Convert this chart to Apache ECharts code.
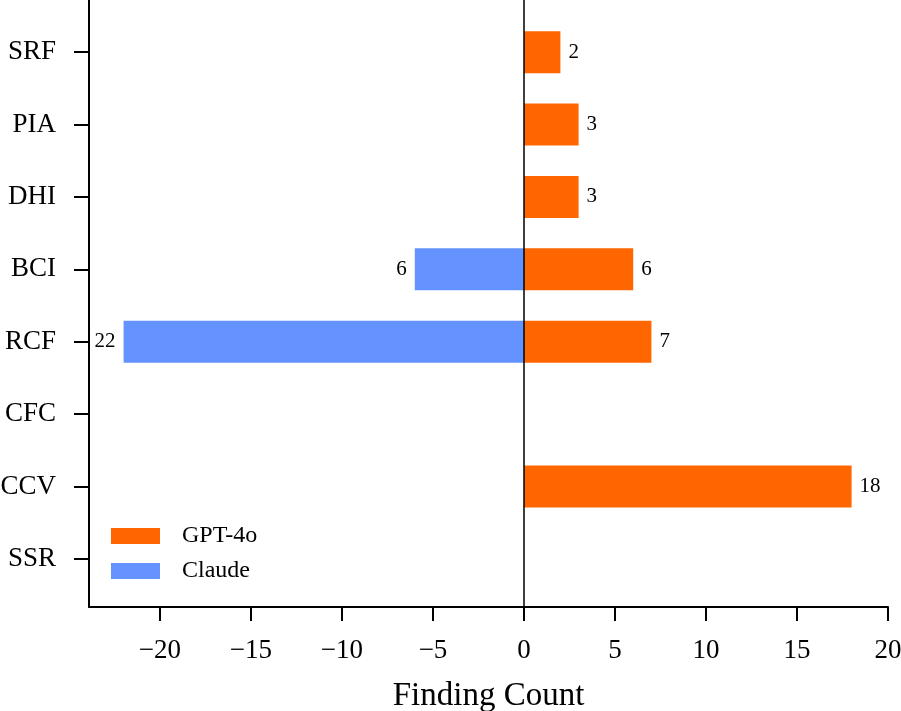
<!DOCTYPE html>
<html lang="en">
<head>
    <meta charset="UTF-8">
    <title>Finding Count</title>
    <script src="https://cdn.jsdelivr.net/npm/echarts@6/dist/echarts.min.js"></script>
</head>
<body style="margin:0;background:#fff">
<div id="main" style="width: 901px; height: 711px;"></div>
<script>
    // categories bottom -> top
    var categories = ['SSR', 'CCV', 'CFC', 'RCF', 'BCI', 'DHI', 'PIA', 'SRF']
    var gptValues = [0, 18, 0, 7, 6, 3, 3, 2]
    var claudeValues = [0, 0, 0, -22, -6, 0, 0, 0]
    var xTicks = [-20, -15, -10, -5, 0, 5, 10, 15, 20]

    var font = 'Liberation Serif'
    var myChart = echarts.init(document.getElementById('main'))

    function barLabel(pos) {
        return {
            show: true,
            position: pos,
            distance: 8,
            color: '#000',
            fontFamily: font,
            fontSize: 21,
            formatter: function (p) {
                return p.value === 0 ? '' : String(Math.abs(p.value))
            }
        }
    }

    var option = {
        backgroundColor: '#fff',
        animation: false,
        textStyle: { fontFamily: font },
        legend: {
            orient: 'vertical',
            left: 106,
            top: 519,
            itemWidth: 49,
            itemHeight: 16,
            itemGap: 11,
            icon: 'rect',
            textStyle: { fontFamily: font, fontSize: 24, color: '#000', padding: [0, 0, 0, 17] },
            data: ['GPT-4o', 'Claude']
        },
        grid: [
            // frame: full-height axes
            { left: 89, top: 0, width: 799, height: 607, containLabel: false, outerBoundsMode: 'none' },
            // bars
            { left: 89, top: 16, width: 799, height: 579, containLabel: false, outerBoundsMode: 'none' }
        ],
        xAxis: [
            {
                gridIndex: 0,
                type: 'value',
                min: -23.9,
                max: 20,
                name: 'Finding Count',
                nameLocation: 'middle',
                nameGap: 73,
                nameTextStyle: { fontFamily: font, fontSize: 33, color: '#000' },
                axisLine: { show: true, onZero: false, lineStyle: { color: '#000', width: 2 } },
                axisTick: { show: true, length: 14, customValues: xTicks, lineStyle: { color: '#000', width: 2 } },
                axisLabel: {
                    customValues: xTicks,
                    margin: 30,
                    color: '#000',
                    fontFamily: font,
                    fontSize: 27,
                    formatter: function (v) { return String(v).replace('-', '\u2212') }
                },
                splitLine: { show: false }
            },
            {
                gridIndex: 1,
                type: 'value',
                min: -23.9,
                max: 20,
                show: false
            }
        ],
        yAxis: [
            {
                gridIndex: 0,
                type: 'value',
                min: 0,
                max: 1,
                axisLine: { show: true, onZero: false, lineStyle: { color: '#000', width: 2 } },
                axisTick: { show: false },
                axisLabel: { show: false },
                splitLine: { show: false }
            },
            {
                gridIndex: 1,
                type: 'category',
                data: categories,
                axisLine: { show: false, onZero: false },
                axisTick: { show: true, alignWithLabel: true, length: 15, lineStyle: { color: '#000', width: 2 } },
                axisLabel: { margin: 33, color: '#000', fontFamily: font, fontSize: 27 },
                splitLine: { show: false }
            }
        ],
        series: [
            {
                name: 'zero',
                type: 'line',
                xAxisIndex: 0,
                yAxisIndex: 0,
                data: [],
                silent: true,
                markLine: {
                    silent: true,
                    symbol: 'none',
                    label: { show: false },
                    lineStyle: { color: '#000', width: 1.5, type: 'solid' },
                    data: [{ xAxis: 0 }]
                }
            },
            {
                name: 'GPT-4o',
                type: 'bar',
                xAxisIndex: 1,
                yAxisIndex: 1,
                barWidth: 42,
                barGap: '-100%',
                itemStyle: { color: '#FF6600' },
                label: barLabel('right'),
                data: gptValues
            },
            {
                name: 'Claude',
                type: 'bar',
                xAxisIndex: 1,
                yAxisIndex: 1,
                barWidth: 42,
                barGap: '-100%',
                itemStyle: { color: '#6492FF' },
                label: barLabel('left'),
                data: claudeValues
            }
        ]
    };
    myChart.setOption(option);
</script>
</body>
</html>
